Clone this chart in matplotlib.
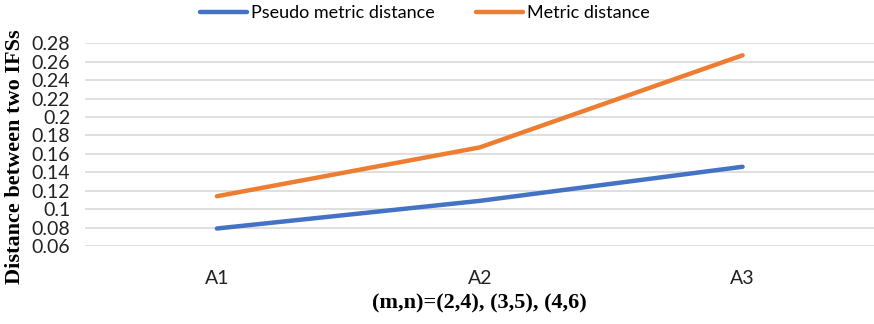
import matplotlib
matplotlib.use("Agg")
import matplotlib.pyplot as plt

categories = ["A1", "A2", "A3"]
pseudo_metric = [0.079, 0.109, 0.146]
metric = [0.114, 0.167, 0.267]
y_ticks = [0.06, 0.08, 0.1, 0.12, 0.14, 0.16, 0.18, 0.2, 0.22, 0.24, 0.26, 0.28]
y_tick_labels = ["0.06", "0.08", "0.1", "0.12", "0.14", "0.16", "0.18", "0.2",
                 "0.22", "0.24", "0.26", "0.28"]

plt.rcParams['font.family'] = ['Lato', 'DejaVu Sans']

fig = plt.figure(figsize=(8.74, 3.24), dpi=100)
ax = fig.add_axes([0.0978, 0.2407, 0.9022, 0.6257])

x = range(len(categories))
ax.plot(x, pseudo_metric, color='#4472C4', linewidth=3.2, solid_capstyle='round',
        label='Pseudo metric distance')
ax.plot(x, metric, color='#ED7D31', linewidth=3.2, solid_capstyle='round',
        label='Metric distance')

ax.set_xlim(-0.5, len(categories) - 0.5)
ax.set_ylim(0.06, 0.28)
ax.set_xticks(list(x))
ax.set_xticklabels(categories, fontsize=14, color='#222222')
ax.set_yticks(y_ticks)
ax.set_yticklabels(y_tick_labels, fontsize=14, color='#222222')
ax.tick_params(length=0)
ax.tick_params(axis='x', pad=17)
ax.tick_params(axis='y', pad=11)
ax.grid(axis='y', color='#D9D9D9', linewidth=1.2)
ax.set_axisbelow(True)
for s in ax.spines.values():
    s.set_visible(False)

ax.set_ylabel('Distance between two IFSs', fontfamily='Liberation Serif',
              fontweight='bold', fontsize=16)
ax.yaxis.set_label_coords(-0.077, 0.44)
ax.set_xlabel('(m,n)=(2,4), (3,5), (4,6)', fontfamily='Liberation Serif',
              fontweight='bold', fontsize=16, labelpad=5)

fig.legend(loc='upper center', bbox_to_anchor=(0.486, 1.035), ncol=2, frameon=False,
           fontsize=13, handlelength=2.6, handletextpad=0.2, columnspacing=2.3)

fig.savefig('out.png', dpi=100)
